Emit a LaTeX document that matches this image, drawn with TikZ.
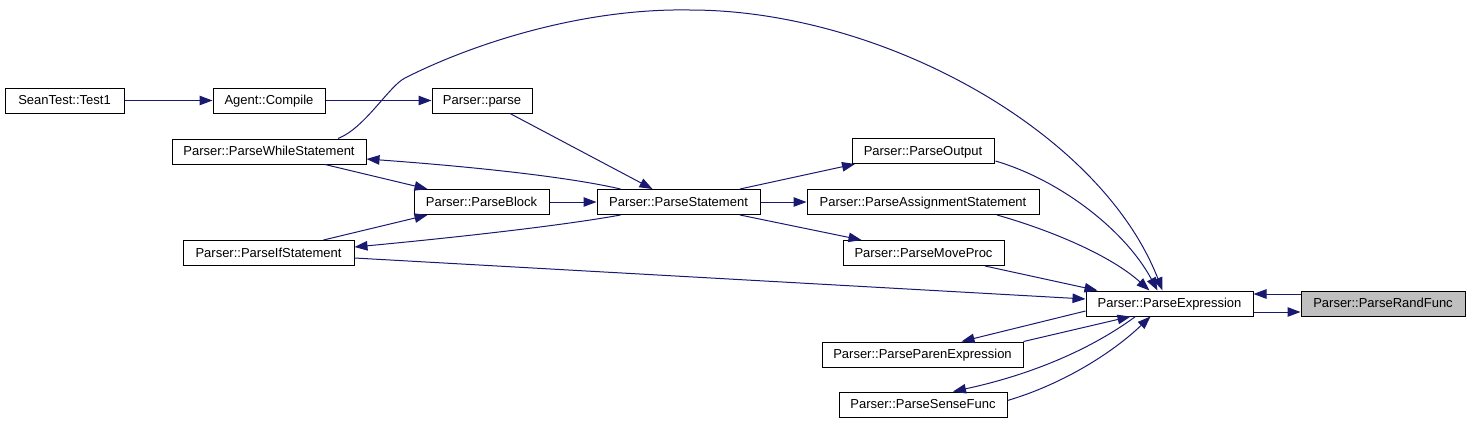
\documentclass[tikz,border=0pt]{standalone}
\usepackage{fontspec}
\setmainfont{Liberation Sans}
\usepackage{tikz}
\usetikzlibrary{arrows.meta,positioning,calc}

\definecolor{edgeblue}{HTML}{191970}
\definecolor{boxgray}{HTML}{BFBFBF}

\begin{document}
\begin{tikzpicture}[
  x=1pt, y=-1pt,
  every node/.style={font=\fontsize{13}{15}\selectfont},
  fn/.style={draw=black, fill=white, line width=1pt, minimum height=25pt,
             inner sep=0pt, text height=10pt, text depth=2pt},
  call/.style={edgeblue, line width=1pt, -{Triangle[length=13pt, width=9.5pt]}},
]

\useasboundingbox (0,0) rectangle (1469,424);

%% ── Callers (left) ───────────────────────────────────────────────────────────
\node[fn, minimum width=119pt] (test1)   at (64.5,100.5) {SeanTest::Test1};
\node[fn, minimum width=112pt] (compile) at (269,100.5)  {Agent::Compile};
\node[fn, minimum width=100pt] (parse)   at (482,100.5)  {Parser::parse};
\node[fn, minimum width=194pt] (whilest) at (269,151.5)  {Parser::ParseWhileStatement};
\node[fn, minimum width=135pt] (block)   at (481.5,202)  {Parser::ParseBlock};
\node[fn, minimum width=171pt] (ifst)    at (268.5,253)  {Parser::ParseIfStatement};
\node[fn, minimum width=163pt] (stmt)    at (678.5,202)  {Parser::ParseStatement};

%% ── Middle column ────────────────────────────────────────────────────────────
\node[fn, minimum width=142pt] (output)   at (923,151)    {Parser::ParseOutput};
\node[fn, minimum width=232pt] (assign)   at (923,202)    {Parser::ParseAssignmentStatement};
\node[fn, minimum width=161pt] (moveproc) at (923.5,253)  {Parser::ParseMoveProc};
\node[fn, minimum width=201pt] (paren)    at (922.5,354.5) {Parser::ParseParenExpression};
\node[fn, minimum width=168pt] (sense)    at (923,404.5)  {Parser::ParseSenseFunc};

%% ── Right ────────────────────────────────────────────────────────────────────
\node[fn, minimum width=167pt] (expr)  at (1169.5,303.5) {Parser::ParseExpression};
\node[fn, fill=boxgray, minimum width=164pt] (randf) at (1383,303.5) {Parser::ParseRandFunc};

%% ── Calls ────────────────────────────────────────────────────────────────────
\draw[call] (test1) -- (compile);
\draw[call] (compile) -- (parse);
\draw[call] ($(parse.south)+(28,0)$) -- ($(stmt.north)+(-26,0)$);

% statement / block loop
\draw[call] ($(whilest.south)+(56,0)$) -- ($(block.north)+(-54,0)$);
\draw[call] ($(ifst.north)+(55,0)$) -- ($(block.south)+(-54,0)$);
\draw[call] (block) -- (stmt);
\draw[call] ($(stmt.north)+(-58,0)$) .. controls (560,175) and (450,165) .. ($(whilest.east)+(0,7.5)$);
\draw[call] ($(stmt.south)+(-58,0)$) .. controls (560,226) and (450,238) .. ($(ifst.east)+(0,-6)$);

% statement kinds
\draw[call] ($(stmt.north)+(61.5,0)$) -- ($(output.south)+(-68,0)$);
\draw[call] (stmt) -- (assign);
\draw[call] ($(stmt.south)+(61.5,0)$) -- ($(moveproc.north)+(-62,0)$);

% into ParseExpression
\draw[call] ($(whilest.north)+(69,0)$) .. controls (365,128) and (389,86) .. (405,78)
  .. controls (470,45) and (580,8) .. (690,10)
  .. controls (880,10) and (1100,130) .. ($(expr.north)+(-7,0)$);
\draw[call] ($(output.east)+(1,10)$) .. controls (1060,180) and (1125,230) .. ($(expr.north)+(-12,0)$);
\draw[call] ($(assign.south)+(74,0)$) .. controls (1050,230) and (1110,255) .. ($(expr.north)+(-20,0)$);
\draw[call] ($(moveproc.south)+(61.5,0)$) -- ($(expr.north west)+(12,0)$);
\draw[call] ($(ifst.east)+(0,5)$) -- ($(expr.west)+(0,-4.5)$);

% recursion below
\draw[call] ($(expr.west)+(0,7.5)$) -- ($(paren.north)+(39,0)$);
\draw[call] (paren.north east) -- ($(expr.south)+(-39,0)$);
\draw[call] ($(expr.south)+(-34,0)$) .. controls (1090,350) and (1030,375) .. ($(sense.north)+(30,0)$);
\draw[call] ($(sense.east)+(0,-4)$) .. controls (1060,385) and (1110,355) .. ($(expr.south)+(-19,0)$);

% rand func pair
\draw[call] ($(randf.west)+(0,-9.5)$) -- ($(expr.east)+(0,-9.5)$);
\draw[call] ($(expr.east)+(0,8.5)$) -- ($(randf.west)+(0,8.5)$);

\end{tikzpicture}
\end{document}
